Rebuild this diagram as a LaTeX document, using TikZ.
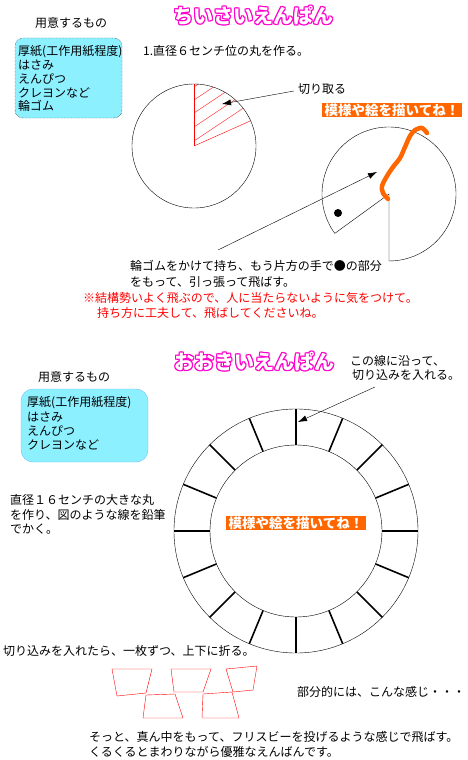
\documentclass[tikz,border=0pt]{standalone}
\usepackage{fontspec}
\setmainfont{Noto Sans CJK JP}
\usetikzlibrary{arrows.meta}
\definecolor{mag}{RGB}{255,0,204}
\definecolor{org}{RGB}{255,102,0}
\definecolor{cyb}{RGB}{140,240,255}
\newcommand\outlinetitle[3]{%
  \foreach \dx/\dy [count=\i] in {-1/-1,0/-1,1/-1,-1/0,1/0,-1/1,0/1,1/1}{%
    \node[titlef,text=mag,xshift=\dx pt,yshift=\dy pt] (#1o\i) at (#2) {#3};}%
  \node[titlef,text=white] (#1) at (#2) {#3};}
\begin{document}
\begin{tikzpicture}[x=1pt,y=-1pt,
  txt/.style={anchor=west,inner sep=0pt,font=\fontsize{12}{13.5}\selectfont},
  redtxt/.style={txt,text=red},
  titlef/.style={inner sep=0pt,font=\fontsize{20}{20}\selectfont\bfseries},
  tag/.style={fill=org,text=white,inner xsep=3pt,inner ysep=1pt,font=\fontsize{13.5}{13.5}\selectfont\bfseries},
  topbox/.style={fill=cyb,draw=black,densely dotted,rounded corners=8pt},
  botbox/.style={fill=cyb,draw=cyb!80!blue,rounded corners=12pt},
  arr/.style={-{Latex[length=9pt,width=6pt]},thin},
  tick/.style={line width=1.6pt},
  fold/.style={draw=red,thin}]
\useasboundingbox[fill=white] (0,0) rectangle (468,760);

% ---------- top section ----------
\outlinetitle{tA}{253,16}{ちいさいえんぱん}
\node[txt] (need1) at (35,23) {用意するもの};
\path[topbox] (15,38) rectangle (122,118);
\node[txt] (a1) at (18,52) {厚紙(工作用紙程度)};
\node[txt] (a2) at (18,65.5) {はさみ};
\node[txt] (a3) at (18,79) {えんぴつ};
\node[txt] (a4) at (18,92.5) {クレヨンなど};
\node[txt] (a5) at (18,106) {輪ゴム};
\node[txt] (step1) at (143,51) {1.直径６センチ位の丸を作る。};

% small disc with cut-out sector
\coordinate (L) at (194,146);
\begin{scope}
  \clip (L) -- ++(-90:62) arc[start angle=-90,end angle=-24,radius=62] -- cycle;
  \foreach \y in {87,100,113,127,141} \draw[red] (194,\y) -- ++(90,-60);
\end{scope}
\draw[red] (L) -- ++(-90:62);
\draw[red] (L) -- ++(-24:62);
\draw (L) circle[radius=62];
\node[txt] (cut) at (298,89) {切り取る};
\coordinate (cutpt) at (222,104);
\draw[arr] (cut.west) ++(-4,2) -- (cutpt);

% orange tag
\node[tag] (tag1) at (392,110) {模様や絵を描いてね！};

% disc with slit
\coordinate (R) at (389,194);
\draw (R) ++(-216:67) arc[start angle=-216,end angle=90,radius=67] -- (R) -- cycle;
\fill (338,213) circle[radius=4];
\coordinate (pullA) at (218,250);
\coordinate (pullB) at (377,172);
\draw[arr] (pullA) -- (pullB);
\draw[org,line width=4.5pt,line cap=round,line join=round]
  plot[smooth] coordinates {(388,199) (383,193) (382,186) (387,176) (393,167) (400,158) (405,147) (410,136) (415,130) (422,128) (427,133)};

\node[txt] (b1) at (130,266) {輪ゴムをかけて持ち、もう片方の手で●の部分};
\node[txt] (b2) at (130,282) {をもって、引っ張って飛ばす。};
\node[redtxt] (c1) at (83,298) {※結構勢いよく飛ぶので、人に当たらないように気をつけて。};
\node[redtxt] (c2) at (97,313) {持ち方に工夫して、飛ばしてくださいね。};

% ---------- bottom section ----------
\outlinetitle{tB}{254,361}{おおきいえんぱん}
\node[txt] (d1) at (350,361) {この線に沿って、};
\node[txt] (d2) at (352,375) {切り込みを入れる。};
\node[txt] (need2) at (38,377) {用意するもの};
\path[botbox] (21,389) rectangle (148,462);
\node[txt] (e1) at (27,403) {厚紙(工作用紙程度)};
\node[txt] (e2) at (27,417) {はさみ};
\node[txt] (e3) at (27,431) {えんぴつ};
\node[txt] (e4) at (27,445) {クレヨンなど};

\coordinate (C) at (296,531);
\draw (C) circle[radius=122];
\draw (C) circle[radius=86];
\foreach \k in {0,...,15} \draw[tick] (C) ++(\k*22.5:86) -- ++(\k*22.5:36);
\coordinate (slit) at (298,422);
\draw[arr] (375,387) -- (slit);
\node[tag] (tag2) at (296,523) {模様や絵を描いてね！};

\node[txt] (f1) at (10,500) {直径１６センチの大きな丸};
\node[txt] (f2) at (10,515) {を作り、図のような線を鉛筆};
\node[txt] (f3) at (10,529) {でかく。};

\node[txt] (g1) at (3,651) {切り込みを入れたら、一枚ずつ、上下に折る。};

% folded flaps
\draw[fold] (112,669) -- (152,669) -- (146,693) -- (117,696) -- cycle;
\draw[fold] (146,695) -- (175,694) -- (183,718) -- (143,718) -- cycle;
\draw[fold] (171,669) -- (211,669) -- (203,692) -- (174,692) -- cycle;
\draw[fold] (203,694) -- (232,692) -- (239,718) -- (202,718) -- cycle;
\draw[fold] (226,669) -- (257,666) -- (253,690) -- (233,692) -- cycle;

\node[txt] (h1) at (297,692) {部分的には、こんな感じ・・・};
\node[txt] (i1) at (89,737) {そっと、真ん中をもって、フリスビーを投げるような感じで飛ばす。};
\node[txt] (i2) at (89,752) {くるくるとまわりながら優雅なえんばんです。};
\end{tikzpicture}
\end{document}
